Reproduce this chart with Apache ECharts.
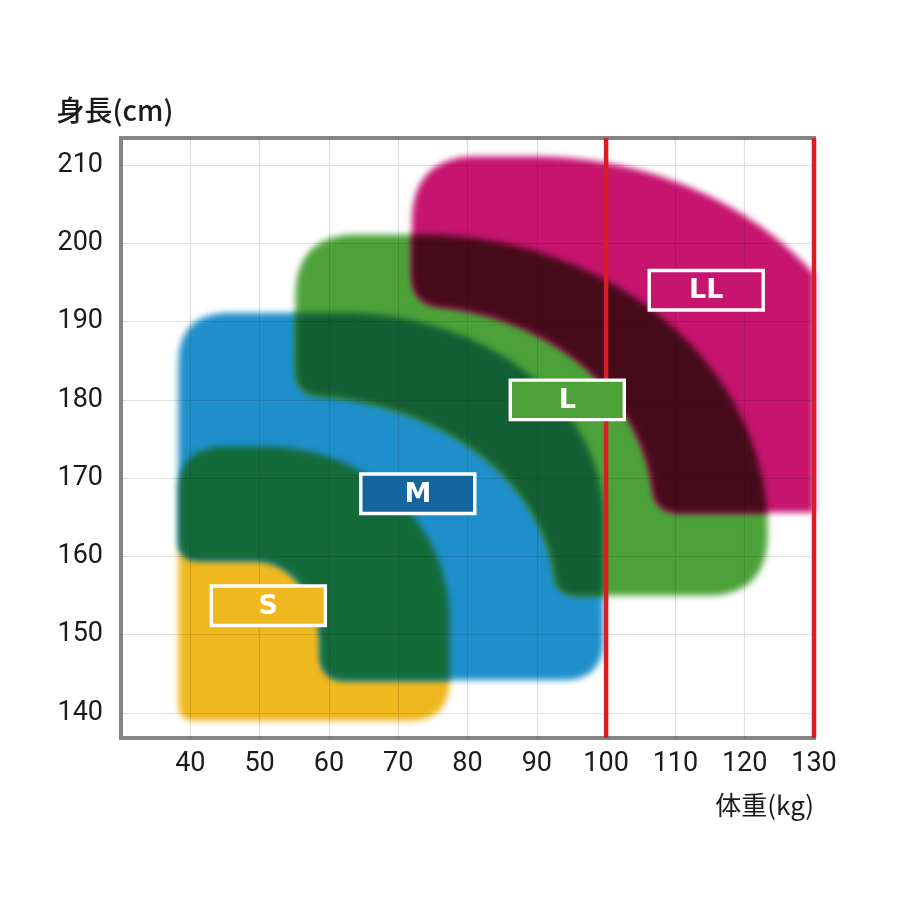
<!DOCTYPE html>
<html><head><meta charset="utf-8">
<script src="https://cdn.jsdelivr.net/npm/echarts@6/dist/echarts.min.js"></script>
<style>html,body{margin:0;padding:0;background:#fff}#c{width:900px;height:900px}</style>
</head><body><div id="c"></div>
<script>
// ---------------- data ----------------
const sizeNames = ['S', 'M', 'L', 'LL'];
const weightMin = [38.3, 38.3, 55.2, 72.0];
const weightMax = [77.4, 99.6, 123.3, 139.9];
const heightMin = [139.0, 144.2, 155.0, 165.6];
const heightMax = [174.0, 191.1, 201.1, 211.1];
const bendWeight = [51.0, 62.0, 73.2, 89.4];      // outer curve start (weight)
const bendHeight = [152.0, 165.0, 163.4, 174.0];  // outer curve start (height)
const innerWeight = [null, 58.8, 92.7, 107.0];    // inner cut reach along min height
const innerHeight = [null, 159.5, 180.6, 192.1];  // inner cut reach along min weight
const innerBendWeight = [null, 49.4, 55.2, 72.0];
const innerBendHeight = [null, 148.6, 155.0, 165.6];
const overlapPairs = [[0, 1], [1, 2], [2, 3]];    // S∩M, M∩L, L∩LL
const labelWeight = [51.26, 72.83, 94.4, 114.45];
const labelHeight = [153.7, 168.0, 180.0, 194.0];
const limitWeights = [100, 130];
const weightTicks = [40, 50, 60, 70, 80, 90, 100, 110, 120, 130];
const heightTicks = [140, 150, 160, 170, 180, 190, 200, 210];
const weightRange = [30, 130];
const heightRange = [136.8, 213.45];

// ---------------- style ----------------
const shapeColors = ['#EFB81F', '#1F8FCB', '#4CA239', '#C6146F'];
const overlapColors = ['#146B3A', '#135F35', '#460B1A'];
const boxColors = ['#EFB81F', '#14659E', '#4CA239', '#C6146F'];
const cornerR = [
  {tl: 45, br: 40, bl: 15},
  {tl: 50, br: 40, li: 20, bi: 25},
  {tl: 60, br: 60, li: 25, bi: 22},
  {tl: 65, br: 10, li: 30, bi: 25}
];

function dist(a, b) { return Math.hypot(a[0] - b[0], a[1] - b[1]); }

function roundCorners(raw, corners) {
  const pts = [], map = {};
  raw.forEach((p, j) => {
    const last = pts[pts.length - 1];
    if (last && dist(p, last) < 0.01) { map[j] = pts.length - 1; return; }
    map[j] = pts.length; pts.push(p);
  });
  if (pts.length > 1 && dist(pts[0], pts[pts.length - 1]) < 0.01) {
    const li = pts.length - 1; pts.pop();
    Object.keys(map).forEach(k => { if (map[k] === li) map[k] = 0; });
  }
  const dense = [], vIdx = [], n = pts.length;
  for (let j = 0; j < n; j++) {
    const a = pts[j], b = pts[(j + 1) % n];
    vIdx[j] = dense.length;
    const steps = Math.max(1, Math.ceil(dist(a, b) / 1.5));
    for (let s = 0; s < steps; s++) {
      const t = s / steps;
      dense.push([a[0] + (b[0] - a[0]) * t, a[1] + (b[1] - a[1]) * t]);
    }
  }
  const D = dense.length;
  const removed = new Array(D).fill(false);
  const curveAt = {};
  corners.forEach(([j, r]) => {
    if (!r) return;
    const k = vIdx[map[j]];
    let d = 0, a = k, guard = 0;
    while (d < r && guard++ < D / 3) { const pa = (a - 1 + D) % D; d += dist(dense[a], dense[pa]); a = pa; }
    d = 0; let b = k; guard = 0;
    while (d < r && guard++ < D / 3) { const nb = (b + 1) % D; d += dist(dense[b], dense[nb]); b = nb; }
    for (let m = (a + 1) % D; m !== b; m = (m + 1) % D) removed[m] = true;
    curveAt[k] = [dense[a], dense[k], dense[b]];
  });
  const out = [];
  for (let m = 0; m < D; m++) {
    if (curveAt[m]) {
      const [A, K, B] = curveAt[m];
      for (let s = 1; s < 20; s++) {
        const t = s / 20, u = 1 - t;
        out.push([u * u * A[0] + 2 * u * t * K[0] + t * t * B[0], u * u * A[1] + 2 * u * t * K[1] + t * t * B[1]]);
      }
    } else if (!removed[m]) out.push(dense[m]);
  }
  return out;
}

function shapePoints(i, api) {
  const P = (x, y) => api.coord([x, y]);
  const x0 = weightMin[i], y0 = heightMin[i], xR = weightMax[i], yT = heightMax[i];
  const xc = bendWeight[i], yc = bendHeight[i];
  const R = cornerR[i];
  const solid = innerWeight[i] == null;
  const raw = [], corners = [];
  const N = 60;
  if (solid) { raw.push(P(x0, y0)); corners.push([0, R.bl]); }
  else { raw.push(P(x0, innerHeight[i])); corners.push([0, R.li]); }
  raw.push(P(x0, yT)); corners.push([raw.length - 1, R.tl]);
  const c = P(xc, yc), t = P(xc, yT), r = P(xR, yc);
  const rx = r[0] - c[0], ry = c[1] - t[1];
  for (let k = 0; k <= N; k++) {
    const a = Math.PI / 2 * k / N;
    raw.push([c[0] + rx * Math.sin(a), c[1] - ry * Math.cos(a)]);
  }
  raw.push(P(xR, y0)); corners.push([raw.length - 1, R.br]);
  if (!solid) {
    raw.push(P(innerWeight[i], y0)); corners.push([raw.length - 1, R.bi]);
    const ci = P(innerBendWeight[i], innerBendHeight[i]);
    const ti = P(innerBendWeight[i], innerHeight[i]);
    const ri = P(innerWeight[i], innerBendHeight[i]);
    const rxi = ri[0] - ci[0], ryi = ci[1] - ti[1];
    for (let k = N; k >= 0; k--) {
      const a = Math.PI / 2 * k / N;
      raw.push([ci[0] + rxi * Math.sin(a), ci[1] - ryi * Math.cos(a)]);
    }
  }
  return roundCorners(raw, corners);
}

function shapeItem(params, api) {
  const i = api.value(2);
  return {type: 'polygon', silent: true, shape: {points: shapePoints(i, api)}, style: {fill: shapeColors[i]}};
}

function overlapItem(params, api) {
  const k = api.value(2);
  const [a, b] = overlapPairs[k];
  return {
    type: 'polygon', silent: true,
    shape: {points: shapePoints(a, api)},
    style: {fill: overlapColors[k]},
    clipPath: {type: 'polygon', shape: {points: shapePoints(b, api)}}
  };
}

function limitItem(params, api) {
  const v = api.value(0);
  const a = api.coord([v, heightRange[0]]), b = api.coord([v, heightRange[1]]);
  return {type: 'line', silent: true, shape: {x1: a[0], y1: a[1], x2: b[0], y2: b[1]},
    style: {stroke: '#D91D25', lineWidth: 4.5}};
}

function boxItem(params, api) {
  const i = api.value(2);
  const c = api.coord([api.value(0), api.value(1)]);
  const w = 114, h = 39.5;
  return {type: 'group', silent: true, children: [
    {type: 'rect', shape: {x: c[0] - w / 2, y: c[1] - h / 2, width: w, height: h},
      style: {fill: boxColors[i], stroke: '#ffffff', lineWidth: 3.4}},
    {type: 'text', x: c[0], y: c[1] + 1,
      style: {text: sizeNames[i], fill: '#ffffff', font: 'bold 27px "DejaVu Sans"', align: 'center', verticalAlign: 'middle'}}
  ]};
}

const gridLine = {show: true, lineStyle: {color: '#e0e0e0', width: 1.2}};

const chart = echarts.init(document.getElementById('c'), null, {renderer: 'canvas'});
chart.setOption({
  backgroundColor: '#ffffff',
  animation: false,
  textStyle: {fontFamily: 'Roboto'},
  grid: {left: 121, right: 86, top: 138, bottom: 162, show: true, borderColor: '#858585', borderWidth: 4, backgroundColor: 'transparent'},
  xAxis: [{
    type: 'value', min: weightRange[0], max: weightRange[1], interval: 10, position: 'bottom', zlevel: 0,
    axisLine: {show: false}, axisTick: {show: false, customValues: weightTicks},
    axisLabel: {customValues: weightTicks, color: '#1a1a1a', fontSize: 27, fontFamily: 'Roboto', margin: 13},
    splitLine: {show: false},
    name: '体重(kg)', nameLocation: 'end', nameGap: 0,
    nameTextStyle: {fontFamily: '"Noto Sans CJK JP"', fontSize: 26, color: '#1a1a1a', align: 'right', verticalAlign: 'top', padding: [54, 0, 0, 0]}
  }, {
    type: 'value', min: weightRange[0], max: weightRange[1], interval: 10, position: 'bottom', zlevel: 3,
    axisLine: {show: false}, axisTick: {show: false, customValues: weightTicks},
    axisLabel: {show: false}, splitLine: gridLine
  }],
  yAxis: [{
    type: 'value', min: heightRange[0], max: heightRange[1], splitNumber: 8, position: 'left', zlevel: 0,
    axisLine: {show: false}, axisTick: {show: false, customValues: heightTicks},
    axisLabel: {customValues: heightTicks, color: '#1a1a1a', fontSize: 27, fontFamily: 'Roboto', margin: 18},
    splitLine: {show: false},
    name: '身長(cm)', nameLocation: 'end', nameGap: 28,
    nameTextStyle: {fontFamily: '"Noto Sans CJK JP"', fontSize: 28, fontWeight: 500, color: '#1a1a1a', align: 'center', verticalAlign: 'middle', padding: [0, 12, 0, 0]}
  }, {
    type: 'value', min: heightRange[0], max: heightRange[1], splitNumber: 8, position: 'left', zlevel: 3,
    axisLine: {show: false}, axisTick: {show: false, customValues: heightTicks},
    axisLabel: {show: false}, splitLine: gridLine
  }],
  series: [
    {type: 'custom', zlevel: 1, clip: true, silent: true, renderItem: shapeItem,
      data: sizeNames.map((n, i) => [weightMin[i], heightMin[i], i])},
    {type: 'custom', zlevel: 2, clip: true, silent: true, renderItem: overlapItem,
      data: overlapPairs.map((p, k) => [weightMin[p[1]], heightMin[p[1]], k])},
    {type: 'custom', zlevel: 10, clip: false, silent: true, renderItem: limitItem,
      data: limitWeights.map(v => [v, heightRange[0]])},
    {type: 'custom', zlevel: 10, clip: false, silent: true, renderItem: boxItem,
      data: sizeNames.map((n, i) => [labelWeight[i], labelHeight[i], i])}
  ]
});

function styleLayers() {
  document.querySelectorAll('#c canvas').forEach(cv => {
    const id = cv.getAttribute('data-zr-dom-id');
    if (id === 'zr_1' || id === 'zr_2') cv.style.filter = 'blur(3px)';
    if (id === 'zr_3') cv.style.mixBlendMode = 'multiply';
  });
}
styleLayers();
chart.on('finished', styleLayers);
setTimeout(styleLayers, 30);
</script>
</body></html>
